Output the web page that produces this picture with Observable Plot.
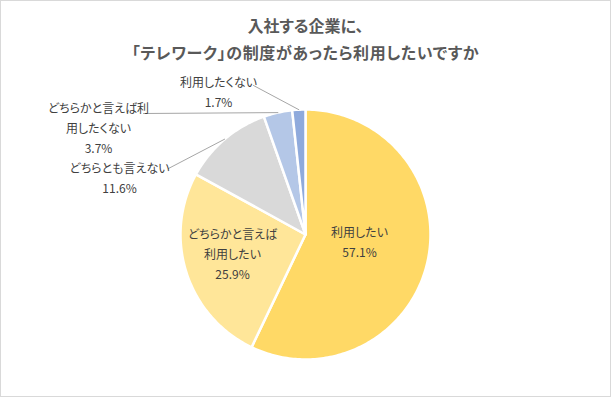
<!DOCTYPE html>
<html><head><meta charset="utf-8">
<script src="https://cdn.jsdelivr.net/npm/d3@7"></script>
<script src="https://cdn.jsdelivr.net/npm/@observablehq/plot@0.6"></script>
<style>
body{margin:0;background:#fff;}
#chart{position:relative;width:611px;height:397px;box-sizing:border-box;border:1px solid #D9D9D9;background:#fff;font-family:"Noto Sans CJK JP","Noto Sans",sans-serif;}
#title{position:absolute;left:0;right:0;top:10.5px;text-align:center;font-weight:bold;font-size:16px;color:#595959;line-height:27px;font-feature-settings:"palt";}
#title .l2{letter-spacing:0.6px;}
#plot{position:absolute;left:0;top:0;}
#plot text{font-feature-settings:"palt";}
</style></head><body>
<div id="chart"><div id="plot"></div><div id="title">入社する企業に、<br><span class="l2">「テレワーク」の制度があったら利用したいですか</span></div></div>
<script>
// ---- data ----
const categories = ["利用したい", "どちらかと言えば利用したい", "どちらとも言えない", "どちらかと言えば利用したくない", "利用したくない"];
const values = [57.1, 25.9, 11.6, 3.7, 1.7];
const valueLabels = ["57.1%", "25.9%", "11.6%", "3.7%", "1.7%"];
const labelTexts = ["利用したい", "どちらかと言えば\n利用したい", "どちらとも言えない", "どちらかと言えば利\n用したくない", "利用したくない"];
const colors = ["#FFD966", "#FFE699", "#D9D9D9", "#B4C7E7", "#8FAADC"];

// ---- layout (page pixels) ----
const W = 609, H = 395, CX = 304, CY = 233, R = 125;
const labelPos = [[359, 240], [232, 252], [119, 176], [98, 126], [218, 90.5]];
const leaderStart = [null, null, [168, 168], [143, 113], [253, 85]];
const ux = px => (px - 1 - CX) / R;
const uy = py => (CY - (py - 1)) / R;

// ---- geometry from data ----
const arcs = d3.pie().sort(null).value(d => d)(values);
const slicePts = [];
arcs.forEach((a, i) => {
  const n = Math.max(2, Math.ceil((a.endAngle - a.startAngle) * 180 / Math.PI));
  slicePts.push({cat: categories[i], x: 0, y: 0});
  for (let k = 0; k <= n; k++) {
    const t = a.startAngle + (a.endAngle - a.startAngle) * k / n;
    slicePts.push({cat: categories[i], x: Math.sin(t), y: Math.cos(t)});
  }
  slicePts.push({cat: categories[i], x: 0, y: 0});
});
const leaderPts = [];
arcs.forEach((a, i) => {
  if (!leaderStart[i]) return;
  const m = (a.startAngle + a.endAngle) / 2;
  leaderPts.push({k: i, x: ux(leaderStart[i][0]), y: uy(leaderStart[i][1])});
  leaderPts.push({k: i, x: Math.sin(m), y: Math.cos(m)});
});
const labels = categories.map((c, i) => ({
  x: ux(labelPos[i][0]), y: uy(labelPos[i][1]),
  text: labelTexts[i] + "\n" + valueLabels[i]
}));

const chart = Plot.plot({
  width: W, height: H, margin: 0,
  style: {background: "transparent"},
  x: {domain: [-CX / R, (W - CX) / R], axis: null},
  y: {domain: [-(H - CY) / R, CY / R], axis: null},
  color: {domain: categories, range: colors},
  marks: [
    Plot.line(slicePts, {x: "x", y: "y", z: "cat", fill: "cat", stroke: "white", strokeWidth: 2.5, strokeLinejoin: "round"}),
    Plot.line(leaderPts, {x: "x", y: "y", z: "k", stroke: "#A6A6A6", strokeWidth: 1}),
    Plot.text(labels, {x: "x", y: "y", text: "text", fill: "#404040", fontSize: 12, lineHeight: 1.67, fontFamily: "'Noto Sans CJK JP', sans-serif"})
  ]
});
document.getElementById("plot").appendChild(chart);
</script>
</body></html>
